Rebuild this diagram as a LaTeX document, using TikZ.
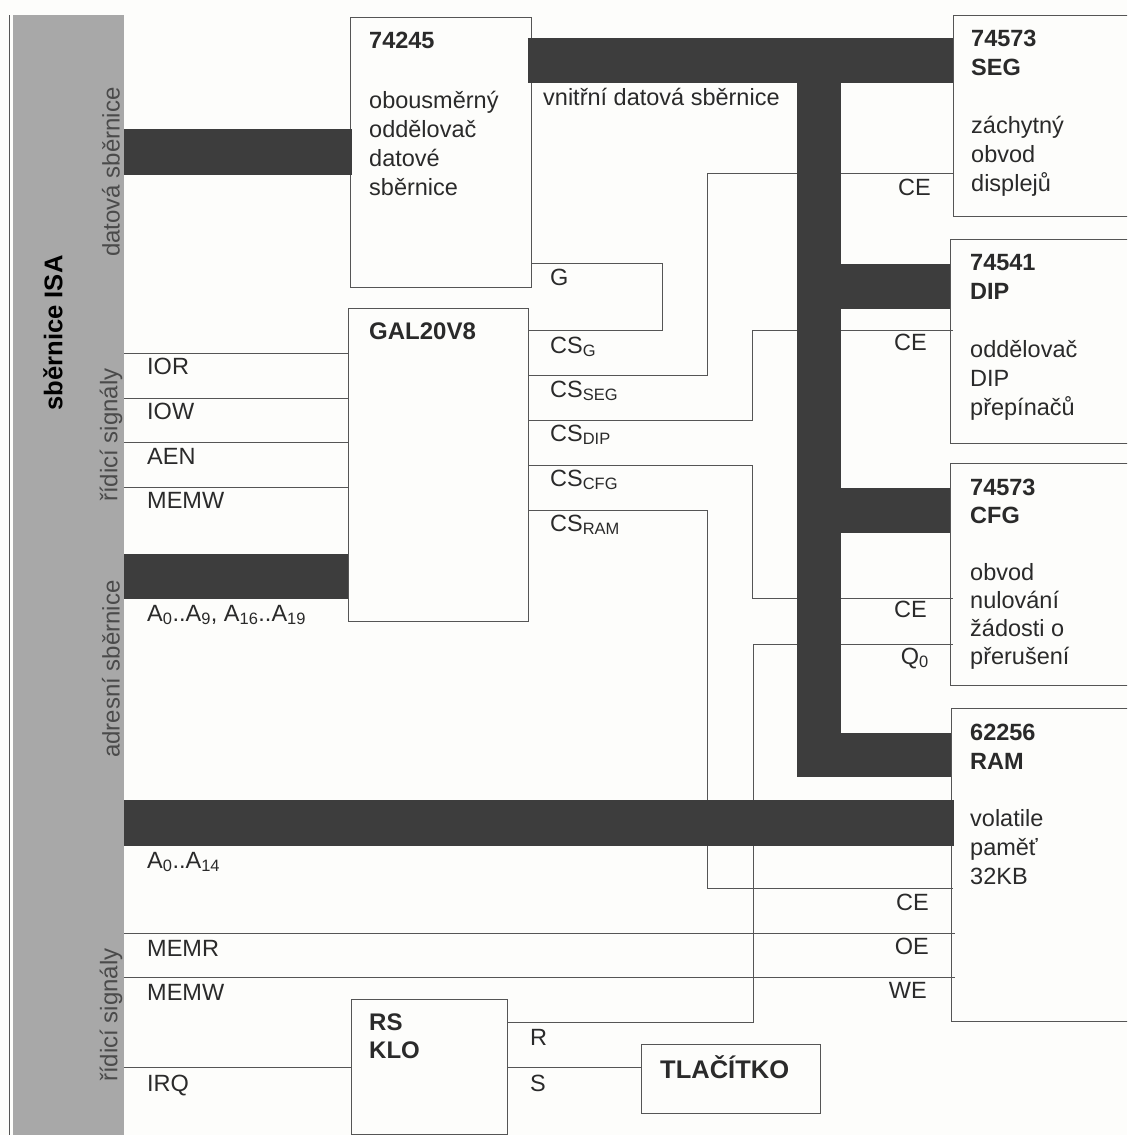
\documentclass[tikz,border=0pt]{standalone}
\usepackage{fontspec}
\setmainfont{Liberation Sans}
\usetikzlibrary{positioning}
\definecolor{Paper}{HTML}{FDFDFB}
\definecolor{BarGray}{HTML}{A8A8A8}
\definecolor{BusDark}{HTML}{3D3D3D}
\definecolor{WireGray}{HTML}{555555}
\definecolor{TextInk}{HTML}{2A2A2A}
\tikzset{
  chip/.style={draw=WireGray,line width=0.9pt,anchor=north west,inner sep=0pt},
  chiptext/.style={anchor=north west,inner sep=0pt,align=left,text=TextInk,
    font=\fontsize{23.5}{29}\selectfont},
  sig/.style={anchor=base west,inner sep=0pt,text=TextInk,font=\fontsize{23.5}{28}\selectfont},
  sigr/.style={sig,anchor=base east},
  bold/.style={sig,font=\fontsize{24}{28}\selectfont\bfseries},
  side/.style={rotate=90,inner sep=0pt,text=TextInk!85,font=\fontsize{24}{28}\selectfont},
  wire/.style={draw=WireGray,line width=0.9pt},
  bus/.style={draw=BusDark,line width=45pt},
}
\begin{document}
\begin{tikzpicture}[x=1pt,y=-1pt]
        \clip (0,0) rectangle (1127,1135);
        \fill[Paper] (0,0) rectangle (1127,1135);

        \node[fill=BarGray,anchor=north west,inner sep=0pt,minimum width=111pt,minimum height=1120pt] (isa) at (13,15) {};
        \node[fill=WireGray,anchor=north,inner sep=0pt,minimum width=1pt,minimum height=1120pt] (isaline) at (9.5,15) {};
        \node[side,font=\fontsize{25.6}{28}\selectfont\bfseries,text=black] (isaname) at (53,333) {sběrnice ISA};
        \node[side] (sidedata) at (111,172) {datová sběrnice};
        \node[side] (sidectl) at (111,435) {řídicí signály};
        \node[side] (sideaddr) at (111,669) {adresní sběrnice};
        \node[side] (sidectlb) at (111,1015) {řídicí signály};

        \node[chip,minimum width=181pt,minimum height=270pt] (buf) at (350,17) {};
        \node[chip,minimum width=180pt,minimum height=313pt] (gal) at (348,308) {};
        \node[chip,minimum width=190pt,minimum height=201pt] (seg) at (953,15) {};
        \node[chip,minimum width=190pt,minimum height=204pt] (dip) at (950,239) {};
        \node[chip,minimum width=190pt,minimum height=222pt] (cfg) at (950,463) {};
        \node[chip,minimum width=190pt,minimum height=313pt] (ram) at (951,708) {};
        \node[chip,minimum width=156pt,minimum height=135pt] (rs) at (351,999) {};
        \node[chip,minimum width=179pt,minimum height=69pt] (btn) at (641,1044) {};

        \foreach \y in {353,398,442,487}
          \draw[wire] (isa.east |- 0,\y) -- (gal.west |- 0,\y);
        \foreach \y in {933,977}
          \draw[wire] (isa.east |- 0,\y) -- ([xshift=4pt]ram.west |- 0,\y);
        \draw[wire] (isa.east |- 0,1067) -- (rs.west |- 0,1067);
        \draw[wire] (gal.east |- 0,330) -- ++(134,0) |- (buf.east |- 0,263);
        \draw[wire] (gal.east |- 0,375) -- ++(179,0) |- (seg.west |- 0,173);
        \draw[wire] (gal.east |- 0,420) -- ++(224,0) |- ([xshift=3pt]dip.west |- 0,330);
        \draw[wire] (gal.east |- 0,465) -- ++(224,0) |- ([xshift=3pt]cfg.west |- 0,598);
        \draw[wire] (gal.east |- 0,510) -- ++(179,0) |- ([xshift=2pt]ram.west |- 0,888);
        \draw[wire] (rs.east |- 0,1022) -- ++(246,0) |- ([xshift=3pt]cfg.west |- 0,644);
        \draw[wire] (rs.east |- 0,1067) -- (btn.west |- 0,1067);

        \draw[bus,line width=46pt] (isa.east |- 0,152) -- ([xshift=2pt]buf.west |- 0,152);
        \draw[bus] (isa.east |- 0,576) -- (gal.west |- 0,576);
        \draw[bus,line width=46pt] (isa.east |- 0,823) -- ([xshift=3pt]ram.west |- 0,823);
        \draw[bus] ([xshift=-4pt]buf.east |- 0,60) -- (seg.west |- 0,60);
        \draw[bus,line width=44pt] (819,60) -- (819,777);
        \draw[bus] (819,286) -- (dip.west |- 0,286);
        \draw[bus] (819,510) -- (cfg.west |- 0,510);
        \draw[bus,line width=44pt] (797,755) -- (ram.west |- 0,755);

        \node[chiptext] (buftext) at (369,31.5) {\textbf{74245}\\[2pt]\\obousměrný\\oddělovač\\datové\\sběrnice};
        \node[chiptext] (segtext) at (971,30) {\textbf{74573}\\\textbf{SEG}\\\\záchytný\\obvod\\displejů};
        \node[chiptext] (diptext) at (970,254) {\textbf{74541}\\\textbf{DIP}\\\\oddělovač\\DIP\\přepínačů};
        \node[chiptext,font=\fontsize{23.5}{28.2}\selectfont] (cfgtext) at (970,479) {\textbf{74573}\\\textbf{CFG}\\\\obvod\\nulování\\žádosti o\\přerušení};
        \node[chiptext,font=\fontsize{23.5}{28.7}\selectfont] (ramtext) at (970,724) {\textbf{62256}\\\textbf{RAM}\\\\volatile\\paměť\\32KB};

        \node[bold] (galname) at (369,339) {GAL20V8};
        \node[chiptext,font=\fontsize{24}{28}\selectfont\bfseries] (rsname) at (369,1014) {RS\\KLO};
        \node[bold,font=\fontsize{25.5}{28}\selectfont\bfseries] (btnname) at (660,1078) {TLAČÍTKO};
        \node[sig] (innerbus) at (543,105) {vnitřní datová sběrnice};

        \foreach \name/\y/\txt in {ior/374/IOR,iow/419/IOW,aen/464/AEN,memwa/508/MEMW,
            memr/956/MEMR,memwb/1000/MEMW,irq/1091/IRQ,
            adra/621/{A\textsubscript{0}..A\textsubscript{9}, A\textsubscript{16}..A\textsubscript{19}},
            adrb/868/{A\textsubscript{0}..A\textsubscript{14}}}
          \node[sig] (lab\name) at (147,\y) {\txt};
        \foreach \name/\y/\txt in {g/285/G,csg/353/{CS\textsubscript{G}},csseg/397/{CS\textsubscript{SEG}},
            csdip/441/{CS\textsubscript{DIP}},cscfg/486/{CS\textsubscript{CFG}},csram/531/{CS\textsubscript{RAM}}}
          \node[sig] (lab\name) at (550,\y) {\txt};
        \foreach \name/\x/\y/\txt in {ceseg/931/195/CE,cedip/927/350/CE,cecfg/927/617/CE,qcfg/929/664/{Q\textsubscript{0}},
            ceram/929/910/CE,oeram/929/954/OE,weram/927/998/WE}
          \node[sigr] (lab\name) at (\x,\y) {\txt};
        \node[sig] (labr) at (530,1045) {R};
        \node[sig] (labs) at (530,1091) {S};
      \end{tikzpicture}
\end{document}
